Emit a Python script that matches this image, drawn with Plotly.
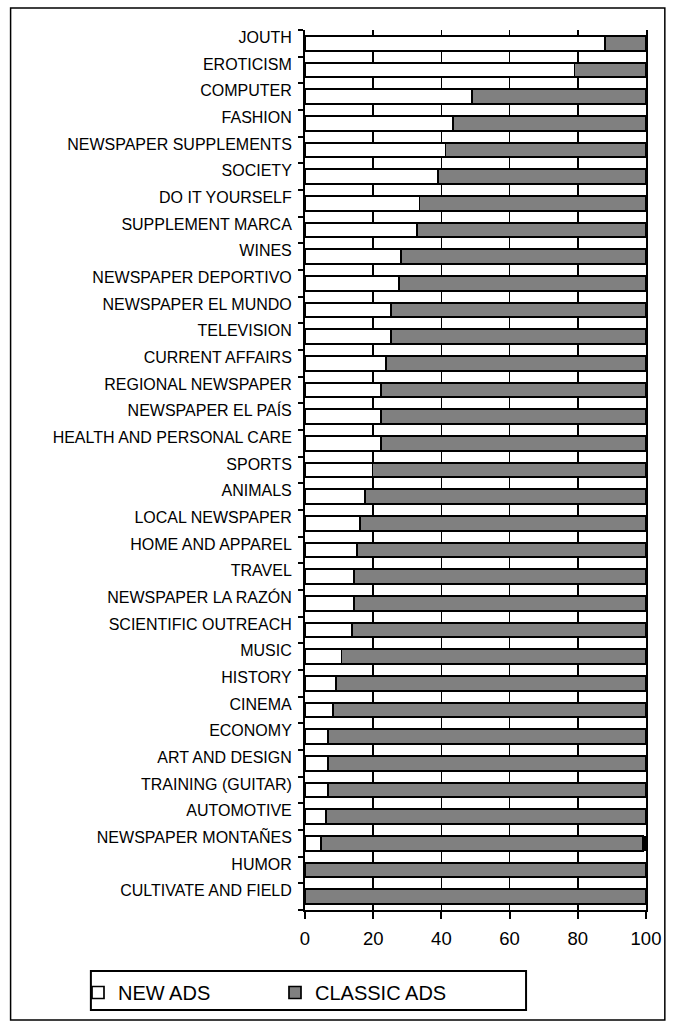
import plotly.graph_objects as go

categories = [
    "JOUTH", "EROTICISM", "COMPUTER", "FASHION", "NEWSPAPER SUPPLEMENTS",
    "SOCIETY", "DO IT YOURSELF", "SUPPLEMENT MARCA", "WINES",
    "NEWSPAPER DEPORTIVO", "NEWSPAPER EL MUNDO", "TELEVISION",
    "CURRENT AFFAIRS", "REGIONAL NEWSPAPER", "NEWSPAPER EL PAÍS",
    "HEALTH AND PERSONAL CARE", "SPORTS", "ANIMALS", "LOCAL NEWSPAPER",
    "HOME AND APPAREL", "TRAVEL", "NEWSPAPER LA RAZÓN", "SCIENTIFIC OUTREACH",
    "MUSIC", "HISTORY", "CINEMA", "ECONOMY", "ART AND DESIGN",
    "TRAINING (GUITAR)", "AUTOMOTIVE", "NEWSPAPER MONTAÑES", "HUMOR",
    "CULTIVATE AND FIELD",
]

new_ads = [
    88, 79, 49, 43.5, 41.2, 39, 33.6, 32.8, 28.2, 27.5, 25.2, 25.2, 23.7,
    22.2, 22.2, 22.2, 19.8, 17.5, 16.1, 15.2, 14.4, 14.4, 13.8, 10.7, 9.1,
    8.3, 6.8, 6.8, 6.8, 6.1, 4.6, 0, 0,
]

other = [0] * 30 + [0.9, 0, 0]

classic_ads = [round(100 - n - o, 2) for n, o in zip(new_ads, other)]

x_ticks = [0, 20, 40, 60, 80, 100]

FONT = "Liberation Sans, Arial, sans-serif"

# figure geometry in page pixels (body margin removed below)
W, H = 673, 1027
L, R, T, B = 305, 24, 30, 117
PW, PH = W - L - R, H - T - B


def px(xf):
    return (xf - L) / PW


def py(yf):
    return (T + PH - yf) / PH


fig = go.Figure()
fig.add_trace(go.Bar(
    y=categories, x=new_ads, orientation="h", name="NEW ADS",
    marker=dict(color="#ffffff", line=dict(color="#000000", width=1.7)),
))
fig.add_trace(go.Bar(
    y=categories, x=classic_ads, orientation="h", name="CLASSIC ADS",
    marker=dict(color="#808080", line=dict(color="#000000", width=1.7)),
))
fig.add_trace(go.Bar(
    y=categories, x=other, orientation="h", name="OTHER", showlegend=False,
    marker=dict(color="#000000", line=dict(color="#000000", width=0)),
))

fig.update_layout(
    barmode="stack",
    bargap=0.45,
    width=W, height=H,
    margin=dict(l=L, r=R, t=T, b=B),
    paper_bgcolor="#ffffff",
    plot_bgcolor="#ffffff",
    font=dict(family=FONT, color="#000000"),
    showlegend=True,
    legend=dict(
        orientation="h",
        x=px(76), xanchor="left",
        y=py(973), yanchor="top",
        borderwidth=0,
        bgcolor="rgba(0,0,0,0)",
        font=dict(family=FONT, size=20, color="#000000"),
        itemwidth=30,
        entrywidth=152,
        traceorder="normal",
    ),
    xaxis=dict(
        range=[0, 100],
        tickvals=x_ticks,
        ticktext=[str(v) for v in x_ticks],
        showgrid=True, gridcolor="#000000", gridwidth=1.5,
        zeroline=False,
        showline=True, linecolor="#000000", linewidth=2,
        ticks="outside", ticklen=7, tickwidth=2, tickcolor="#000000",
        tickfont=dict(family=FONT, size=18.5, color="#000000"),
        ticklabelstandoff=4,
        fixedrange=True,
    ),
    yaxis=dict(
        categoryorder="array",
        categoryarray=categories[::-1],
        showgrid=False,
        showline=True, linecolor="#000000", linewidth=2, mirror=True,
        ticks="outside", ticklen=5, tickwidth=2, tickcolor="#000000",
        tickson="boundaries",
        tickfont=dict(family=FONT, size=16, color="#000000"),
        ticklabelstandoff=8,
        ticklabelshift=-6,
        fixedrange=True,
    ),
    shapes=[
        dict(
            type="rect", xref="paper", yref="paper",
            x0=px(8), x1=px(668), y0=py(1020), y1=py(8),
            line=dict(color="#000000", width=1.5),
            fillcolor="rgba(0,0,0,0)", layer="below",
        ),
        dict(
            type="rect", xref="paper", yref="paper",
            x0=px(89), x1=px(528), y0=py(1010), y1=py(971),
            line=dict(color="#000000", width=2),
            fillcolor="rgba(0,0,0,0)", layer="below",
        ),
    ],
)

fig.write_html(
    "out.html",
    config={"displayModeBar": False, "staticPlot": True},
    post_script="document.body.style.margin='0';",
)
